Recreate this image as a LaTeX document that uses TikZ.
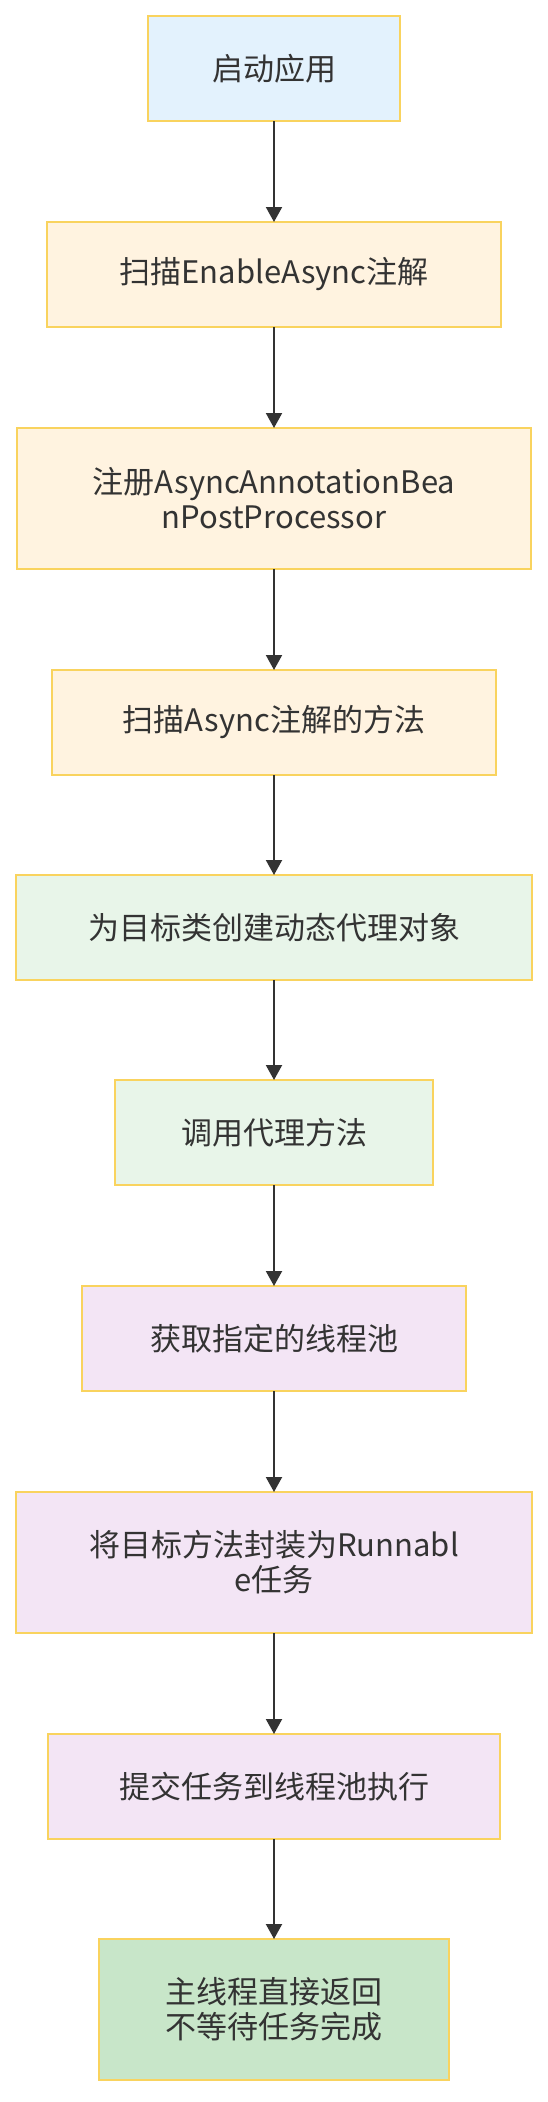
\documentclass[tikz,border=0pt]{standalone}
\usepackage{fontspec}
\setmainfont{Noto Sans CJK SC}
\usepackage{tikz}
\usetikzlibrary{arrows.meta,positioning}
\usepackage{xcolor}
\definecolor{Ink}{HTML}{333333}
\definecolor{Edge}{HTML}{F9D35E}
\definecolor{SkyFill}{HTML}{E3F2FD}
\definecolor{PeachFill}{HTML}{FFF3E0}
\definecolor{MintFill}{HTML}{E8F5E9}
\definecolor{LilacFill}{HTML}{F3E5F5}
\definecolor{LeafFill}{HTML}{C8E6C9}
\tikzset{
  stage/.style={draw=Edge, line width=1.6pt, fill=PeachFill, text=Ink, align=center, inner sep=0pt, outer sep=0pt, minimum height=105pt, font=\fontsize{31}{35}\selectfont},
  stagesky/.style={stage, fill=SkyFill},
  stagemint/.style={stage, fill=MintFill},
  stagelilac/.style={stage, fill=LilacFill},
  stageleaf/.style={stage, fill=LeafFill},
  tall/.style={minimum height=141pt},
  arrow/.style={-{Triangle[length=15pt, width=16pt]}, line width=2pt, draw=Ink}
}

\begin{document}
\begin{tikzpicture}[x=1pt, y=1pt, node distance=101pt]
\useasboundingbox (0,0) rectangle (548,-2102);
\node[stagesky, minimum width=252pt] (start) at (274,-68.5) {启动应用};
\node[stage, minimum width=454pt, below=of start] (scan) {扫描EnableAsync注解};
\node[stage, tall, minimum width=514pt, below=of scan] (regist) {注册AsyncAnnotationBea\\nPostProcessor};
\node[stage, minimum width=444pt, below=of regist] (methods) {扫描Async注解的方法};
\node[stagemint, minimum width=516pt, below=100pt of methods] (proxy) {为目标类创建动态代理对象};
\node[stagemint, minimum width=318pt, below=100pt of proxy] (invoke) {调用代理方法};
\node[stagelilac, minimum width=384pt, below=of invoke] (pool) {获取指定的线程池};
\node[stagelilac, tall, minimum width=516pt, below=of pool] (wrap) {将目标方法封装为Runnabl\\e任务};
\node[stagelilac, minimum width=452pt, below=of wrap] (submit) {提交任务到线程池执行};
\node[stageleaf, tall, minimum width=350pt, below=100pt of submit] (ret) {主线程直接返回\\不等待任务完成};
\draw[arrow] (start) -- (scan);
\draw[arrow] (scan) -- (regist);
\draw[arrow] (regist) -- (methods);
\draw[arrow] (methods) -- (proxy);
\draw[arrow] (proxy) -- (invoke);
\draw[arrow] (invoke) -- (pool);
\draw[arrow] (pool) -- (wrap);
\draw[arrow] (wrap) -- (submit);
\draw[arrow] (submit) -- (ret);
\end{tikzpicture}
\end{document}
